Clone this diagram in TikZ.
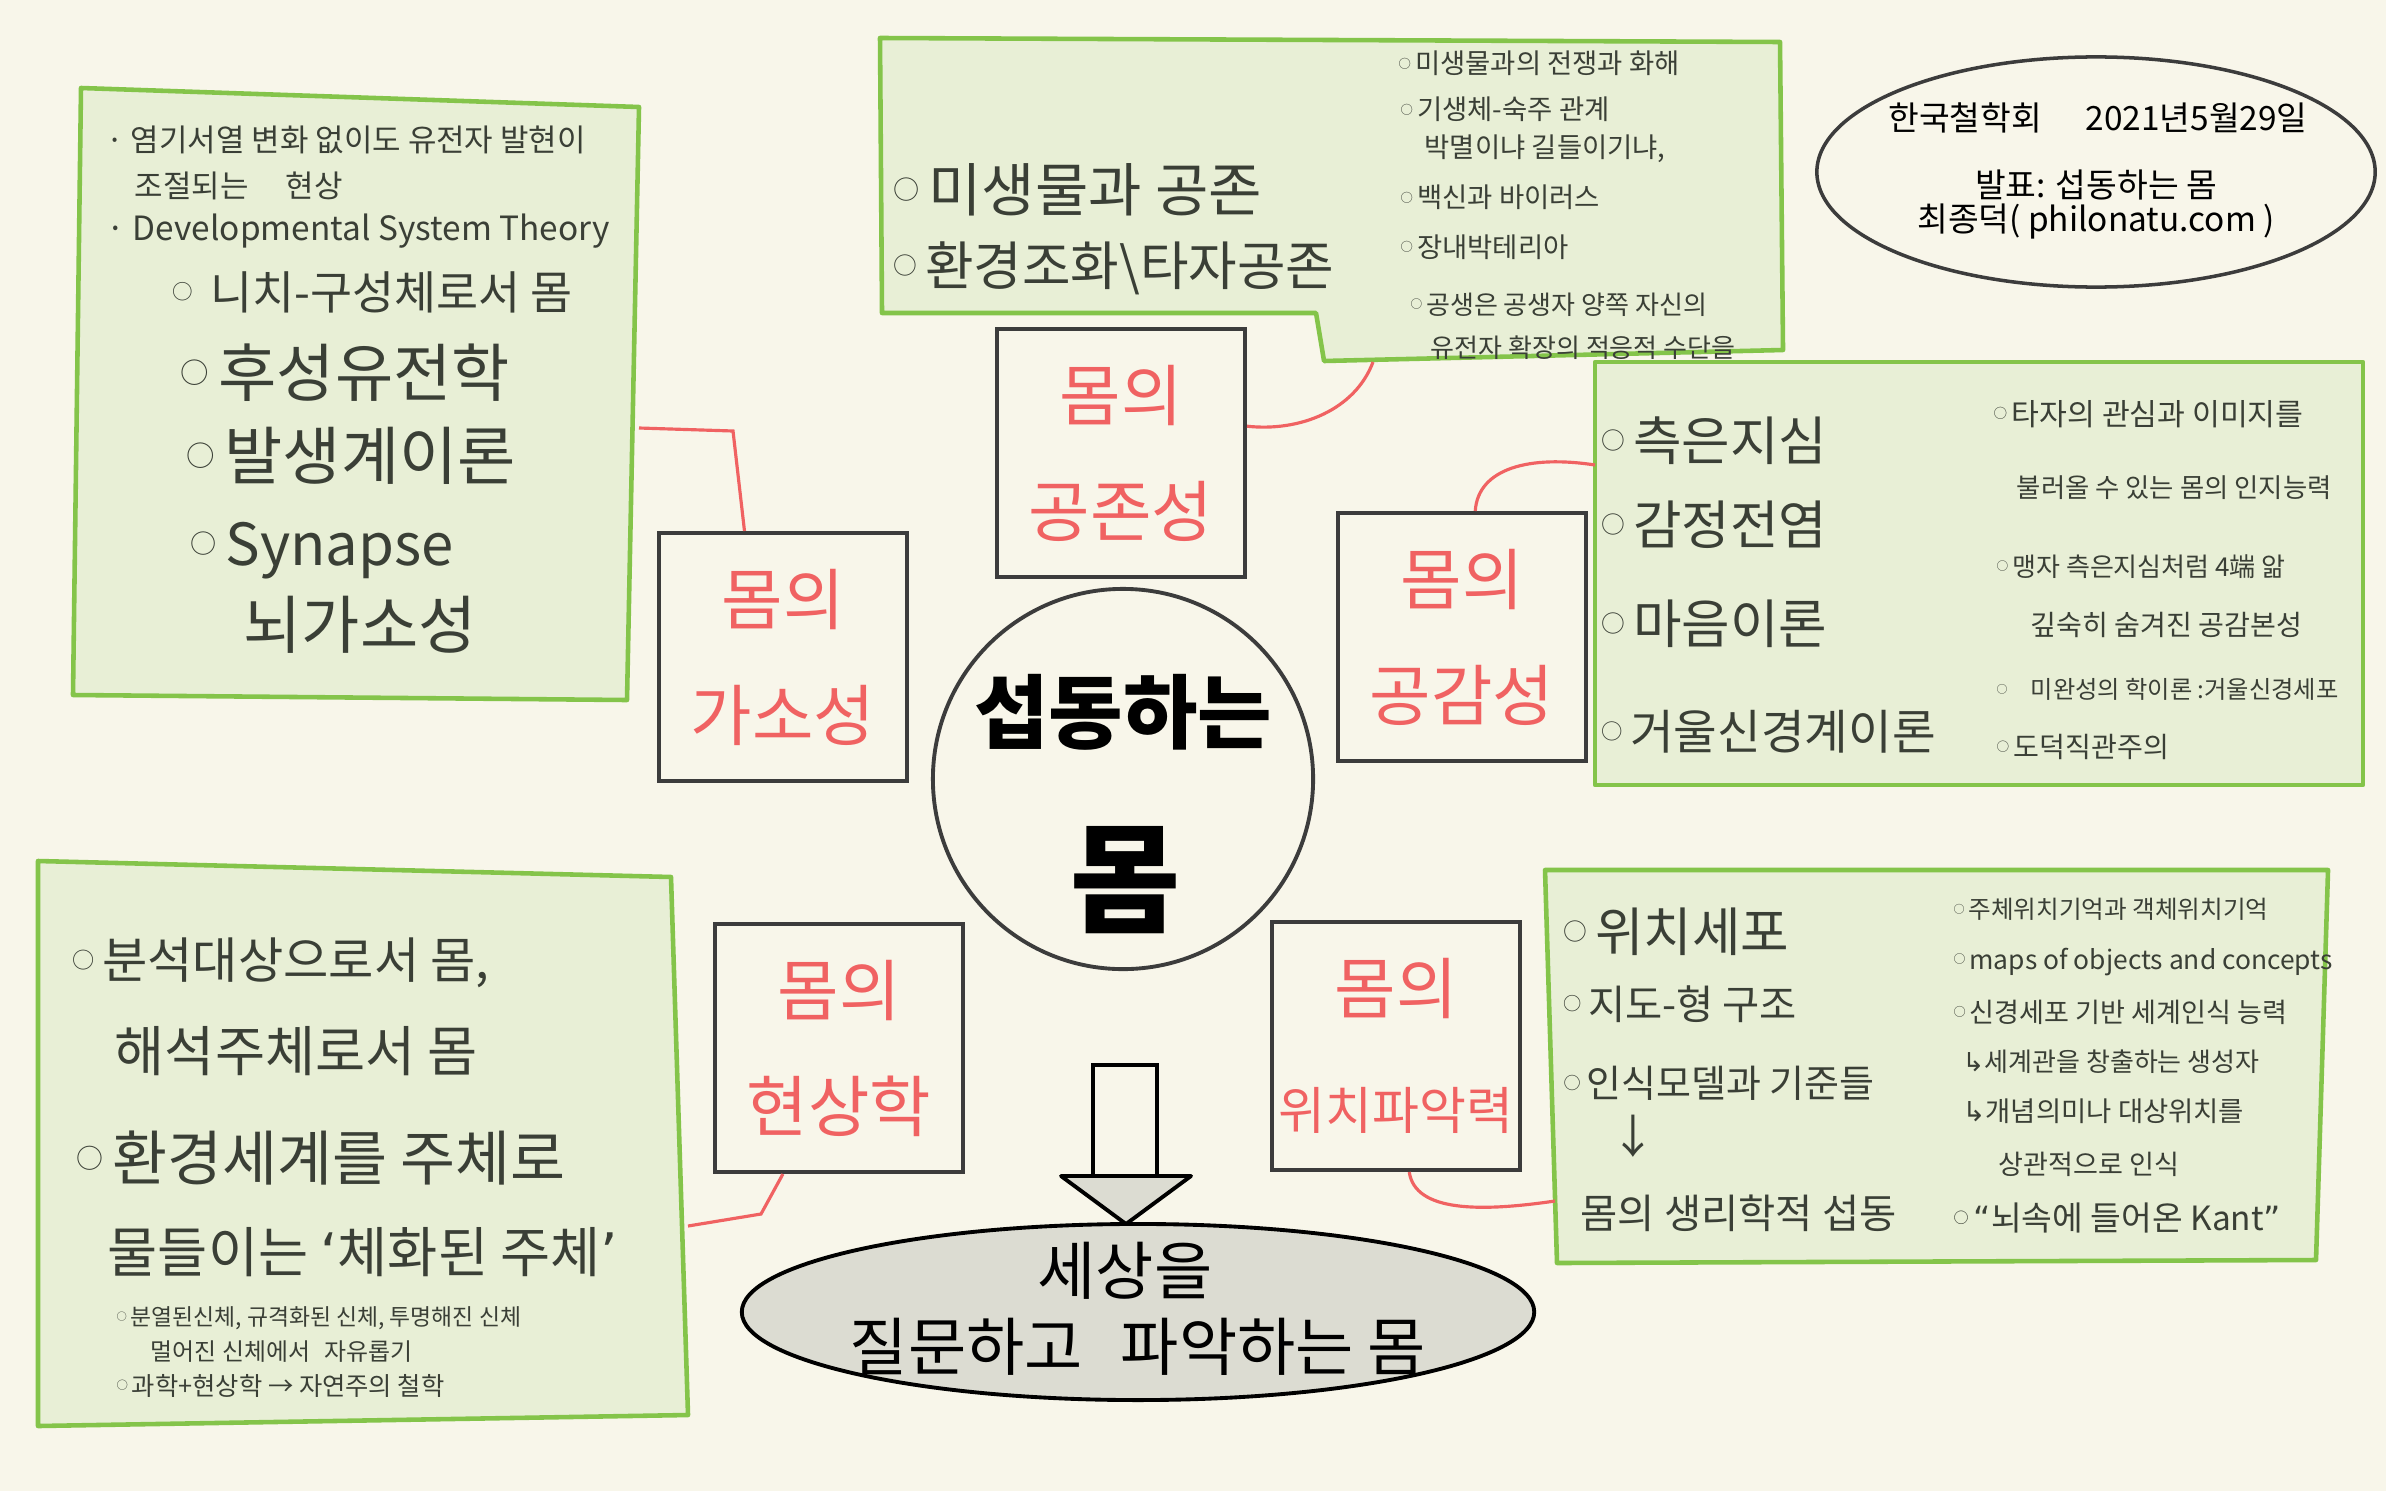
\documentclass[tikz,border=0pt]{standalone}
\usepackage{fontspec}
\setmainfont{Noto Sans CJK KR}
\newfontfamily\djv{DejaVu Sans}
\usetikzlibrary{shapes.geometric}
\definecolor{bg}{HTML}{F8F6EA}
\definecolor{gfill}{HTML}{E8EFD6}
\definecolor{gline}{HTML}{84C44A}
\definecolor{ink}{HTML}{3A3F36}
\definecolor{redink}{HTML}{F06262}
\definecolor{frame}{HTML}{3C3C3C}
\definecolor{grayfill}{HTML}{DCDCD2}
\newcommand\fz[1]{\fontsize{#1pt}{#1pt}\selectfont}
\newcommand\bul{\raisebox{0.2em}{\scalebox{0.45}{○}}\hspace{0.15em}}
\begin{document}
\begin{tikzpicture}[x=0.01cm,y=-0.01cm,
  txt/.style={anchor=base west, inner sep=0pt, text=ink},
  gbox/.style={fill=gfill, draw=gline, line width=1.3pt, line join=round},
  rbox/.style={draw=frame, line width=1.1pt, fill=bg, minimum width=2.48cm, minimum height=2.48cm,
     align=center, text=redink, font=\fontsize{19pt}{33pt}\selectfont, inner sep=0pt},
  rline/.style={draw=redink, line width=0.9pt},
  ctext/.style={text=black, inner sep=0pt}]
\fill[bg] (0,0) rectangle (2386,1491);
\useasboundingbox (0,0) rectangle (2386,1491);

% ---------- green boxes ----------
\draw[gbox] (81,88) -- (639,107) -- (627,700) -- (73,695) -- cycle;
\draw[gbox] (880,38) -- (1780,42) -- (1783,350) -- (1324,361) -- (1316,313) -- (882,313) -- cycle;
\draw[gbox] (1595,362) rectangle (2363,785);
\draw[gbox] (1545,870) -- (2328,870) -- (2316,1260) -- (1557,1263) -- cycle;
\draw[gbox] (38,861) -- (671,877) -- (688,1415) -- (38,1426) -- cycle;

% ---------- top-left box text ----------
\node[txt,font=\fz{8.8}] (tl1) at (106,152) {·\ 염기서열 변화 없이도 유전자 발현이};
\node[txt,font=\fz{8.8}] (tl2) at (134,198) {조절되는\hspace{1.2em}현상};
\node[txt,font=\fz{9.5}] (tl3) at (106,240) {·\ Developmental System Theory};
\node[txt,font=\fz{13}] (tl4) at (172,309) {\bul\ 니치-구성체로서 몸};
\node[txt,font=\fz{18}] (tl5) at (180,396) {\bul 후성유전학};
\node[txt,font=\fz{18}] (tl6) at (186,479) {\bul 발생계이론};
\node[txt,font=\fz{16.5}] (tl7) at (190,565) {\bul Synapse};
\node[txt,font=\fz{18}] (tl8) at (243,648) {뇌가소성};

% ---------- top-middle box text ----------
\node[txt,font=\fz{16.5}] (tm1) at (893,211) {\bul 미생물과 공존};
\node[txt,font=\fz{15}] (tm2) at (893,285) {\bul 환경조화\textbackslash 타자공존};
\node[txt,font=\fz{7.8}] (tm3) at (1398,74) {\bul 미생물과의 전쟁과 화해};
\node[txt,font=\fz{7.8}] (tm4) at (1400,120) {\bul 기생체-숙주 관계};
\node[txt,font=\fz{7.8}] (tm5) at (1424,158) {박멸이냐 길들이기냐,};
\node[txt,font=\fz{7.8}] (tm6) at (1400,208) {\bul 백신과 바이러스};
\node[txt,font=\fz{7.8}] (tm7) at (1400,257) {\bul 장내박테리아};
\node[txt,font=\fz{7.4}] (tm8) at (1410,314) {\bul 공생은 공생자 양쪽 자신의};
\node[txt,font=\fz{7.4}] (tm9) at (1430,357) {유전자 확장의 적응적 수단을};

% ---------- info ellipse ----------
\node[ellipse, draw=frame, line width=1pt, minimum width=5.58cm, minimum height=2.3cm, inner sep=0pt] (info) at (2096,172) {};
\node[ctext,font=\fz{9.5}] (info1) at (2098,118) {한국철학회\hspace{1.3em}2021년5월29일};
\node[ctext,font=\fz{9.5}] (info2) at (2096,185) {발표: 섭동하는 몸};
\node[ctext,font=\fz{9.5}] (info3) at (2096,222) {최종덕( philonatu.com )};

% ---------- right box text ----------
\node[txt,font=\fz{15}] (r1) at (1601,460) {\bul 측은지심};
\node[txt,font=\fz{15}] (r2) at (1601,544) {\bul 감정전염};
\node[txt,font=\fz{15}] (r3) at (1601,643) {\bul 마음이론};
\node[txt,font=\fz{13.5}] (r4) at (1601,749) {\bul 거울신경계이론};
\node[txt,font=\fz{8.6}] (r5) at (1993,425) {\bul 타자의 관심과 이미지를};
\node[txt,font=\fz{7.5}] (r6) at (2016,497) {불러올 수 있는 몸의 인지능력};
\node[txt,font=\fz{7.4}] (r7) at (1996,576) {\bul 맹자 측은지심처럼 4端 앎};
\node[txt,font=\fz{8}] (r8) at (2030,635) {깊숙히 숨겨진 공감본성};
\node[txt,font=\fz{6.9}] (r9) at (1996,698) {\bul\hspace{0.8em}미완성의 학이론 :거울신경세포};
\node[txt,font=\fz{8}] (r10) at (1996,757) {\bul 도덕직관주의};

% ---------- bottom-right box text ----------
\node[txt,font=\fz{15}] (br1) at (1563,951) {\bul 위치세포};
\node[txt,font=\fz{11.5}] (br2) at (1563,1019) {\bul 지도-형 구조};
\node[txt,font=\fz{10.8}] (br3) at (1563,1097) {\bul 인식모델과 기준들};
\node[text=ink,font=\fz{13},inner sep=0pt] (br4) at (1633,1136) {↓};
\node[txt,font=\fz{11.5}] (br5) at (1580,1228) {몸의 생리학적 섭동};
\node[txt,font=\fz{7}] (br6) at (1953,918) {\bul 주체위치기억과 객체위치기억};
\node[txt,font=\fz{7.5}] (br7) at (1953,969) {\bul maps of objects and concepts};
\node[txt,font=\fz{7.7}] (br8) at (1953,1022) {\bul 신경세포 기반 세계인식 능력};
\node[txt,font=\fz{7.4}] (br9) at (1962,1071) {{\djv ↳}세계관을 창출하는 생성자};
\node[txt,font=\fz{7.8}] (br10) at (1962,1121) {{\djv ↳}개념의미나 대상위치를};
\node[txt,font=\fz{7.7}] (br11) at (1998,1174) {상관적으로 인식};
\node[txt,font=\fz{9.5}] (br12) at (1953,1230) {\bul {\djv “}뇌속에 들어온 Kant{\djv ”}};

% ---------- bottom-left box text ----------
\node[txt,font=\fz{14}] (bl1) at (72,978) {\bul 분석대상으로서 몸,};
\node[txt,font=\fz{15.5}] (bl2) at (114,1071) {해석주체로서 몸};
\node[txt,font=\fz{17}] (bl3) at (76,1180) {\bul 환경세계를 주체로};
\node[txt,font=\fz{15.5}] (bl4) at (107,1272) {물들이는 {\djv ‘}체화된 주체{\djv ’}};
\node[txt,font=\fz{6.5}] (bl5) at (116,1325) {\bul 분열된신체, 규격화된 신체, 투명해진 신체};
\node[txt,font=\fz{6.8}] (bl6) at (150,1360) {멀어진 신체에서\hspace{0.6em}자유롭기};
\node[txt,font=\fz{7.2}] (bl7) at (116,1395) {\bul 과학+현상학 → 자연주의 철학};

% ---------- red concept boxes ----------
\node[rbox] (b1) at (783,657) {몸의\\가소성};
\node[rbox] (b2) at (1121,453) {몸의\\공존성};
\node[rbox] (b3) at (1462,637) {몸의\\공감성};
\node[rbox] (b4) at (839,1048) {몸의\\현상학};
\node[rbox] (b5) at (1396,1046) {몸의\\{\fontsize{14.5pt}{33pt}\selectfont 위치파악력}};

% ---------- red connectors ----------
\coordinate (tlR) at (639,428);
\coordinate (tmB) at (1373,362);
\coordinate (rbL) at (1595,465);
\coordinate (blR) at (688,1226);
\coordinate (brL) at (1555,1201);
\draw[rline] (tlR) -- (733,431) -- (b1.107);
\draw[rline] (b2.12) .. controls (1300,432) and (1355,410) .. (tmB);
\draw[rline] (b3.84) .. controls (1478,468) and (1530,455) .. (rbL);
\draw[rline] (b4.246) -- (761,1214) -- (blR);
\draw[rline] (b5.276) .. controls (1415,1212) and (1480,1212) .. (brL);

% ---------- hub ----------
\node[circle, draw=frame, line width=1.1pt, minimum size=3.8cm, inner sep=0pt] (hub) at (1123,779) {};
\node[ctext,font=\fz{23}\bfseries] (hub1) at (1123,712) {섭동하는};
\node[ctext,font=\fz{34}\bfseries] (hub2) at (1125,880) {몸};

% ---------- block arrow ----------
\draw[black, line width=1.1pt, fill=bg] (1093,1178) -- (1093,1065) -- (1157,1065) -- (1157,1178);
\draw[black, line width=1.1pt, fill=grayfill, line join=round] (1061,1176) -- (1191,1176) -- (1126,1224) -- cycle;

% ---------- bottom ellipse ----------
\node[ellipse, draw=black, line width=1.1pt, fill=grayfill, minimum width=7.92cm, minimum height=1.76cm, inner sep=0pt] (qa) at (1138,1312) {};
\node[ctext,font=\fz{18}] (qa1) at (1125,1271) {세상을};
\node[ctext,font=\fz{18}] (qa2) at (1138,1347) {질문하고\hspace{0.6em}파악하는 몸};
\end{tikzpicture}
\end{document}
